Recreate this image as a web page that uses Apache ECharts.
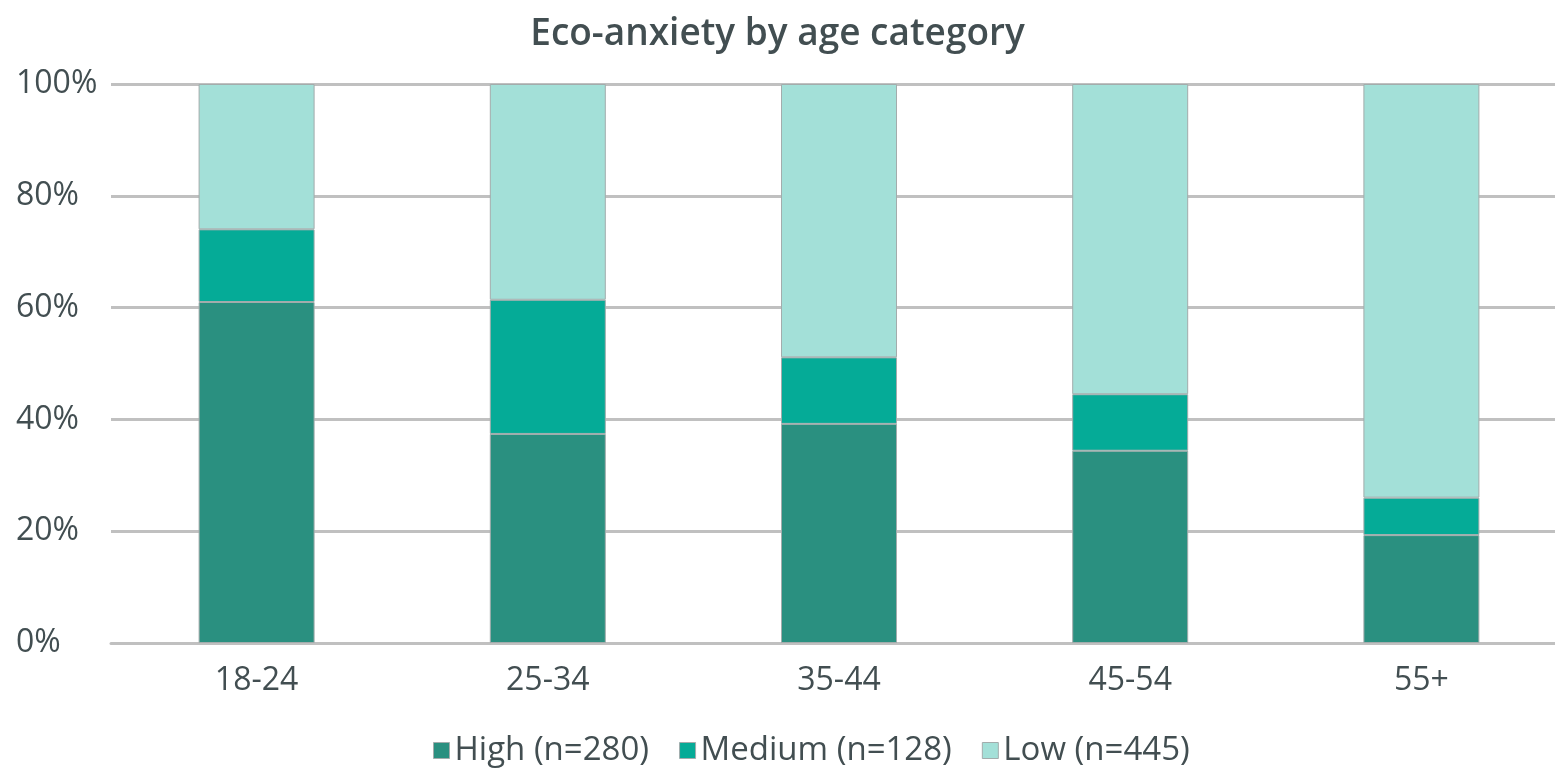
<!DOCTYPE html>
<html>
<head>
<meta charset="utf-8">
<script src="https://cdn.jsdelivr.net/npm/echarts@6/dist/echarts.min.js"></script>
<style>
  html, body { margin: 0; padding: 0; background: #ffffff; }
  #chart { width: 1555px; height: 768px; }
</style>
</head>
<body>
<div id="chart"></div>
<script>
// Share of respondents (%) in each eco-anxiety level, per age group
const ageGroups = ['18-24', '25-34', '35-44', '45-54', '55+'];
const highShare = [61, 37.4, 39.2, 34.4, 19.3];
const mediumShare = [13, 24, 11.9, 10.1, 6.7];
const lowShare = [26, 38.6, 48.9, 55.5, 74];
const seriesNames = ['High (n=280)', 'Medium (n=128)', 'Low (n=445)'];
const yTicks = [0, 20, 40, 60, 80, 100];

const textColor = '#424e51';
const fontFamily = '"Open Sans", "Noto Sans", sans-serif';
const colors = ['#2a9080', '#05ab97', '#a3e0d8'];

const chart = echarts.init(document.getElementById('chart'), null, { renderer: 'canvas' });

const makeSeries = (name, data, color) => ({
  name: name,
  type: 'bar',
  stack: 'share',
  data: data,
  barWidth: 116,
  itemStyle: { color: color, borderColor: '#a3acac', borderWidth: 1 },
  emphasis: { disabled: true }
});

chart.setOption({
  animation: false,
  textStyle: { fontFamily: fontFamily, color: textColor },
  title: {
    text: 'Eco-anxiety by age category',
    left: 'center',
    top: 11,
    textStyle: { fontFamily: fontFamily, fontSize: 37, fontWeight: 600, color: textColor }
  },
  legend: {
    top: 729,
    left: 428,
    itemWidth: 16,
    itemHeight: 16,
    itemGap: 30,
    icon: 'rect',
    textStyle: { fontFamily: fontFamily, fontSize: 33, fontWeight: 500, color: textColor },
    itemStyle: { borderColor: '#a3acac', borderWidth: 1 }
  },
  // the plot area runs a little past the right edge of the canvas
  grid: { left: 111, top: 84, width: 1456, height: 559, containLabel: false, outerBoundsMode: 'none' },
  xAxis: {
    type: 'category',
    data: ageGroups,
    axisLine: { show: true, lineStyle: { color: '#c0c0c0', width: 3 } },
    axisTick: { show: false },
    axisLabel: { fontFamily: fontFamily, fontSize: 32, fontWeight: 500, color: textColor, margin: 22 }
  },
  yAxis: {
    type: 'value',
    min: yTicks[0],
    max: yTicks[yTicks.length - 1],
    interval: yTicks[1] - yTicks[0],
    axisLine: { show: false },
    axisTick: { show: false },
    splitLine: { lineStyle: { color: '#c0c0c0', width: 3 } },
    axisLabel: {
      fontFamily: fontFamily,
      fontSize: 32,
      fontWeight: 500,
      color: textColor,
      align: 'left',
      margin: 95,
      formatter: v => v + '%'
    }
  },
  series: [
    makeSeries(seriesNames[0], highShare, colors[0]),
    makeSeries(seriesNames[1], mediumShare, colors[1]),
    makeSeries(seriesNames[2], lowShare, colors[2])
  ]
});
</script>
</body>
</html>
